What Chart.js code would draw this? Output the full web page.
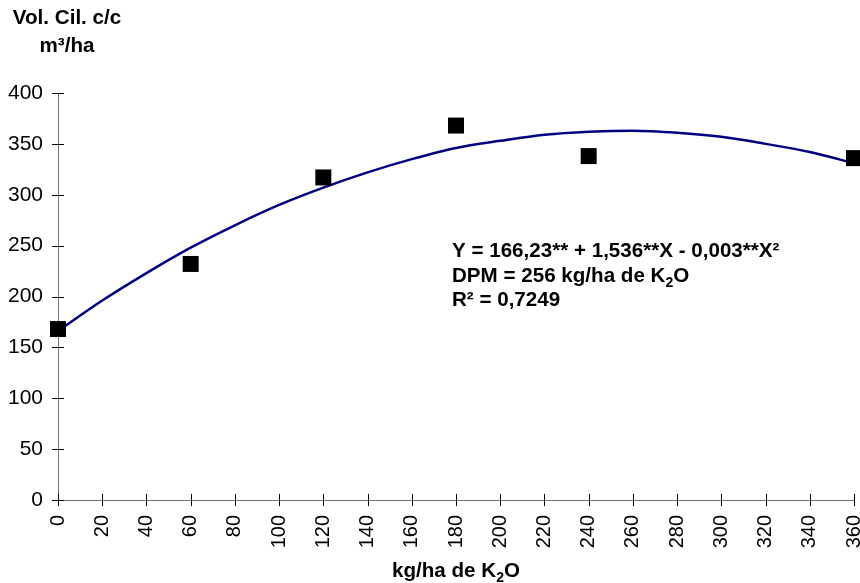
<!DOCTYPE html>
<html>
<head>
<meta charset="utf-8">
<script src="https://cdn.jsdelivr.net/npm/chart.js@4.4.1/dist/chart.umd.min.js"></script>
<style>
  html, body { margin: 0; padding: 0; background: #fff; }
  canvas { display: block; }
</style>
</head>
<body>
<canvas id="chart" width="860" height="583"></canvas>
<script>
// observed values (kg/ha de K2O vs volume)
const doses = [0, 60, 120, 180, 240, 360];
const volumes = [168, 232, 317, 368, 338, 336];

// fitted curve, every 20 kg/ha
const curveDoses = [0, 20, 40, 60, 80, 100, 120, 140, 160, 180, 200, 220, 240, 260, 280, 300, 320, 340, 360];
const curveVolumes = [166, 196, 223, 248, 270, 290, 307, 322, 335, 346, 353, 359, 362, 363, 361, 357, 350, 342, 331];

const yTitle = ['Vol. Cil. c/c', 'm³/ha'];
const eqLines = [
  [['Y = 166,23** + 1,536**X - 0,003**X²']],
  [['DPM = 256 kg/ha de K'], ['2', 'sub'], ['O']],
  [['R² = 0,7249']]
];
const xTitle = [['kg/ha de K'], ['2', 'sub'], ['O']];

const FONT = "'Liberation Sans', Arial, sans-serif";

// draws text pieces with simple subscripts, centred or left aligned
function drawRich(ctx, parts, x, y, align) {
  const big = 'bold 20.6px ' + FONT, small = 'bold 14px ' + FONT;
  let w = 0;
  parts.forEach(p => { ctx.font = p[1] ? small : big; w += ctx.measureText(p[0]).width; });
  let cx = align === 'center' ? x - w / 2 : x;
  ctx.textAlign = 'left';
  ctx.textBaseline = 'alphabetic';
  parts.forEach(p => {
    ctx.font = p[1] ? small : big;
    ctx.fillText(p[0], cx, p[1] ? y + 5 : y);
    cx += ctx.measureText(p[0]).width;
  });
}

const decorPlugin = {
  id: 'decor',
  beforeDatasetsDraw(chart) {
    const ctx = chart.ctx;
    const xs = chart.scales.x, ys = chart.scales.y;
    const area = chart.chartArea;
    ctx.save();
    ctx.strokeStyle = '#000';
    ctx.lineWidth = 1;
    ctx.beginPath();
    ys.ticks.forEach(t => {
      const py = Math.round(ys.getPixelForValue(t.value)) + 0.5;
      ctx.moveTo(area.left - 6, py);
      ctx.lineTo(area.left + 6, py);
    });
    xs.ticks.forEach(t => {
      const px = Math.round(xs.getPixelForValue(t.value)) + 0.5;
      ctx.moveTo(px, area.bottom - 6);
      ctx.lineTo(px, area.bottom + 6);
    });
    ctx.stroke();
    ctx.restore();
  },
  afterDraw(chart) {
    const ctx = chart.ctx;
    const area = chart.chartArea;
    ctx.save();
    ctx.fillStyle = '#000';
    drawRich(ctx, [[yTitle[0]]], 67, 24, 'center');
    drawRich(ctx, [[yTitle[1]]], 67, 52, 'center');
    eqLines.forEach((line, i) => drawRich(ctx, line, 452, 257 + i * 24.5, 'left'));
    drawRich(ctx, xTitle, (area.left + area.right) / 2, 577, 'center');
    ctx.restore();
  }
};

new Chart(document.getElementById('chart'), {
  type: 'scatter',
  data: {
    datasets: [
      {
        label: 'Curva',
        data: curveDoses.map((d, i) => ({ x: d, y: curveVolumes[i] })),
        showLine: true,
        borderColor: '#000080',
        borderWidth: 2.5,
        pointRadius: 0,
        cubicInterpolationMode: 'monotone',
        order: 2
      },
      {
        label: 'Observado',
        data: doses.map((d, i) => ({ x: d, y: volumes[i] })),
        showLine: false,
        pointStyle: 'rect',
        pointRadius: 11.3,
        pointBackgroundColor: '#000',
        pointBorderColor: '#000',
        pointBorderWidth: 0,
        clip: false,
        order: 1
      }
    ]
  },
  options: {
    responsive: false,
    animation: false,
    layout: { autoPadding: false, padding: { top: 93, right: 6, left: 0, bottom: 0 } },
    plugins: {
      legend: { display: false },
      tooltip: { enabled: false }
    },
    scales: {
      x: {
        type: 'linear',
        min: 0,
        max: 360,
        grid: { display: false, drawTicks: false },
        border: { display: true, color: '#707070', width: 1 },
        ticks: {
          stepSize: 20,
          minRotation: 90,
          maxRotation: 90,
          padding: 15,
          color: '#000',
          font: { family: FONT, size: 20 }
        },
        afterFit(s) {
          s.height = 83;
          s.paddingLeft = 0;
          s.paddingRight = 0;
        }
      },
      y: {
        min: 0,
        max: 400,
        grid: { display: false, drawTicks: false },
        border: { display: true, color: '#707070', width: 1 },
        ticks: {
          stepSize: 50,
          padding: 15,
          color: '#000',
          font: { family: FONT, size: 21 }
        },
        afterFit(s) {
          s.width = 58;
          s.paddingTop = 0;
          s.paddingBottom = 0;
        }
      }
    }
  },
  plugins: [decorPlugin]
});
</script>
</body>
</html>
